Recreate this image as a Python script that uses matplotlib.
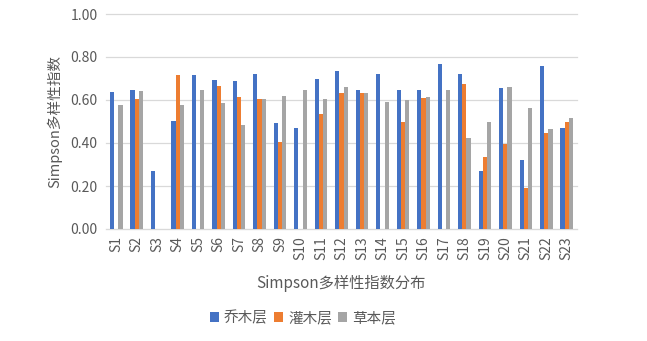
import matplotlib
matplotlib.use("Agg")
import matplotlib.pyplot as plt
import numpy as np

plt.rcParams['font.family'] = ['Noto Sans CJK SC', 'DejaVu Sans']

sites = [f"S{i}" for i in range(1, 24)]
arbor = [0.635, 0.645, 0.269, 0.501, 0.716, 0.694, 0.689, 0.720, 0.491, 0.471, 0.697, 0.737,
         0.645, 0.720, 0.645, 0.645, 0.769, 0.723, 0.269, 0.657, 0.323, 0.759, 0.471]
shrub = [0.0, 0.603, 0.0, 0.714, 0.0, 0.666, 0.612, 0.603, 0.406, 0.0, 0.533, 0.631,
         0.631, 0.0, 0.496, 0.607, 0.0, 0.675, 0.337, 0.394, 0.193, 0.448, 0.496]
herb = [0.577, 0.640, 0.0, 0.577, 0.645, 0.586, 0.482, 0.603, 0.617, 0.648, 0.603, 0.662,
        0.631, 0.590, 0.600, 0.612, 0.645, 0.422, 0.496, 0.662, 0.564, 0.465, 0.515]
series_names = ["乔木层", "灌木层", "草本层"]
colors = ["#4472C4", "#ED7D31", "#A5A5A5"]

fig = plt.figure(figsize=(6.47, 3.41), dpi=100)
ax = fig.add_axes([106/647, 112/341, 471/647, 215/341])

x = np.arange(len(sites))
w = 0.205
for k, (vals, name, c) in enumerate(zip([arbor, shrub, herb], series_names, colors)):
    ax.bar(x + (k - 1) * w, vals, width=w, color=c, label=name, zorder=3)

ax.set_xlim(-0.5, len(sites) - 0.5)
ax.set_ylim(0, 1.0)
ax.set_yticks(np.arange(0, 1.01, 0.2))
ax.set_yticklabels([f"{v:.2f}" for v in np.arange(0, 1.01, 0.2)])
ax.grid(axis='y', color='#D9D9D9', linewidth=0.9, zorder=0)
for gl in ax.get_ygridlines():
    gl.set_clip_on(False)
ax.set_xticks(x)
ax.set_xticklabels(sites, rotation=90)
for s in ['top', 'right', 'left']:
    ax.spines[s].set_visible(False)
ax.spines['bottom'].set_color('#D9D9D9')
ax.tick_params(axis='both', length=0, colors='#595959', labelsize=10)
ax.tick_params(axis='y', pad=6)
ax.tick_params(axis='x', pad=5)

ax.set_ylabel("Simpson多样性指数", color='#595959', fontsize=10.5, labelpad=6)
fig.text(341/647, 1 - 283/341, "Simpson多样性指数分布", color='#595959', fontsize=11,
         ha='center', va='center')
leg = fig.legend(loc='center', bbox_to_anchor=(303/647, 1 - 318/341), ncol=3, frameon=False,
                 fontsize=10.5, handlelength=0.6, handleheight=0.6, handletextpad=0.35,
                 columnspacing=0.45)
for t in leg.get_texts():
    t.set_color('#595959')

fig.savefig("out.png", dpi=100)
